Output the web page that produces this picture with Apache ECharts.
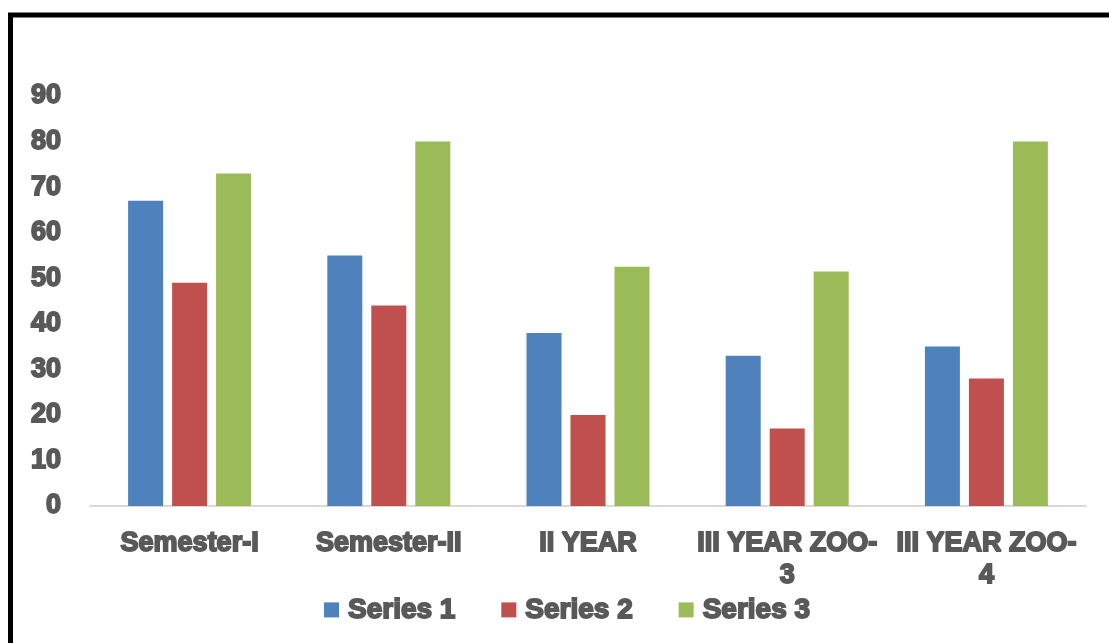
<!DOCTYPE html>
<html>
<head>
<meta charset="utf-8">
<script src="https://cdn.jsdelivr.net/npm/echarts@6/dist/echarts.min.js"></script>
<style>
html,body{margin:0;padding:0;background:#fff;}
#chart{width:1109px;height:643px;}
</style>
</head>
<body>
<div id="chart"></div>
<script>
const categories = ['Semester-I', 'Semester-II', 'II YEAR', 'III YEAR ZOO-3', 'III YEAR ZOO-4'];
const series1 = [67, 55, 38, 33, 35];
const series2 = [49, 44, 20, 17, 28];
const series3 = [73, 80, 52.5, 51.5, 80];
const seriesNames = ['Series 1', 'Series 2', 'Series 3'];
const colors = ['#4F81BD', '#C0504D', '#9BBB59'];

const textColor = '#595959';
const fontFam = 'Liberation Sans, Arial, sans-serif';
const boldText = {
  color: textColor, fontFamily: fontFam, fontWeight: 'bold', fontSize: 27,
  textBorderColor: textColor, textBorderWidth: 1.8
};

const chart = echarts.init(document.getElementById('chart'));
chart.setOption({
  animation: false,
  backgroundColor: '#ffffff',
  color: colors,
  graphic: [{
    type: 'rect',
    shape: { x: 10.5, y: 15, width: 1300, height: 900 },
    style: { fill: 'none', stroke: '#000', lineWidth: 5 },
    silent: true
  }],
  grid: { left: 90, right: 23, top: 96, bottom: 137 },
  legend: {
    data: seriesNames,
    left: 319,
    top: 590,
    itemWidth: 15,
    itemHeight: 15,
    itemGap: 45,
    icon: 'rect',
    textStyle: Object.assign({}, boldText, { fontSize: 28, padding: [0, 0, 0, 4] })
  },
  xAxis: {
    type: 'category',
    data: categories,
    axisLine: { lineStyle: { color: '#d9d9d9', width: 2 } },
    axisTick: { show: false },
    axisLabel: Object.assign({}, boldText, {
      margin: 22,
      lineHeight: 32,
      interval: 0,
      formatter: v => v.replace('ZOO-', 'ZOO-\n')
    })
  },
  yAxis: {
    type: 'value',
    min: 0, max: 90, interval: 10,
    splitLine: { show: false },
    axisLine: { show: false },
    axisTick: { show: false },
    axisLabel: Object.assign({}, boldText, { margin: 29 })
  },
  series: [
    { name: seriesNames[0], type: 'bar', data: series1, barWidth: 35, barGap: '25.7%' },
    { name: seriesNames[1], type: 'bar', data: series2, barWidth: 35, barGap: '25.7%' },
    { name: seriesNames[2], type: 'bar', data: series3, barWidth: 35, barGap: '25.7%' }
  ]
});
</script>
</body>
</html>
